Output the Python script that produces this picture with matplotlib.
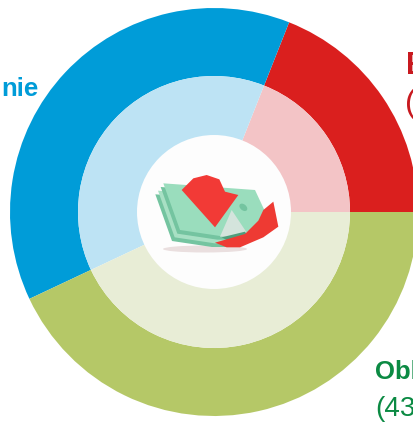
import matplotlib
matplotlib.use('Agg')
import matplotlib.pyplot as plt
from matplotlib.patches import Circle, Polygon, Ellipse

categories = ['E', 'nie', 'Obl']
shares = [19, 38, 43]
outer_colors = ['#DA1F1E', '#009CD8', '#B5C867']
inner_colors = ['#F3C4C6', '#BDE3F4', '#E8EDD6']

W, H = 414, 424
plt.rcParams['font.family'] = ['Liberation Sans', 'DejaVu Sans']


def px(points):
    return [(130 + x / 3, H - (130 + y / 3)) for x, y in points]


fig = plt.figure(figsize=(W / 100, H / 100), dpi=100)
ax = fig.add_axes([0, 0, 1, 1])

center = (214, H - 212)
ax.pie(shares, colors=outer_colors, radius=204, center=center, startangle=0,
       counterclock=True, wedgeprops=dict(width=68, linewidth=0))
ax.pie(shares, colors=inner_colors, radius=136, center=center, startangle=0,
       counterclock=True, wedgeprops=dict(width=60, linewidth=0))
ax.add_patch(Circle(center, 77, fc='#FDFDFD', ec='none', zorder=3))

# icon in the middle: stack of notes with two red arrows
ax.add_patch(Ellipse((205, H - 249), 84, 7, fc='#EADFDF', ec='none', zorder=4))
note = [(100, 160), (375, 180), (410, 255), (350, 318), (270, 318), (150, 300)]
layers = [(-24, 33, '#74C4A0'), (-16, 22, '#A8E0C4'), (-8, 11, '#74C4A0'), (0, 0, '#9ADDBD')]
for dx, dy, color in layers:
    ax.add_patch(Polygon(px([(x + dx, y + dy) for x, y in note]), fc=color, ec='none', zorder=5))
ax.add_patch(Polygon(px([(270, 320), (305, 240), (345, 300), (358, 322)]),
                     fc='#D4E4DC', ec='none', zorder=6))
ax.add_patch(Polygon(px([(275, 322), (345, 305), (358, 325), (300, 335)]),
                     fc='#4E9E7C', ec='none', zorder=6))
ax.add_patch(Ellipse((130 + 340 / 3, H - (130 + 232 / 3)), 9, 6, angle=-40, fc='#74C4A0',
                     ec='none', zorder=6))
ax.add_patch(Polygon(px([(155, 180), (190, 145), (230, 135), (268, 148), (285, 185),
                         (325, 195), (255, 292)]),
                     fc='#F23A36', ec='none', zorder=7))
ax.add_patch(Polygon(px([(430, 215), (445, 290), (400, 322), (330, 352), (290, 352),
                         (255, 338), (345, 312), (385, 272), (400, 240)]),
                     fc='#EE3A33', ec='none', zorder=7))

# labels run off the edge of the picture, only the visible part is kept
ax.text(39, H - 96, categories[1], color='#009CD8', fontweight='bold', ha='right',
        fontsize=18.5, zorder=8)
ax.text(406, H - 74, categories[0], color='#C8191F', fontweight='bold', ha='left',
        fontsize=22, zorder=8)
ax.text(405, H - 112, '(', color='#C8191F', ha='left', fontsize=23, zorder=8)
ax.text(375, H - 379, categories[2], color='#0B8A43', fontweight='bold', ha='left',
        fontsize=18.5, zorder=8)
ax.text(375, H - 416, '(43', color='#0B8A43', ha='left', fontsize=20, zorder=8)

ax.set_xlim(0, W)
ax.set_ylim(0, H)
ax.set_aspect('auto')
ax.axis('off')
fig.savefig('out.png', dpi=100)
